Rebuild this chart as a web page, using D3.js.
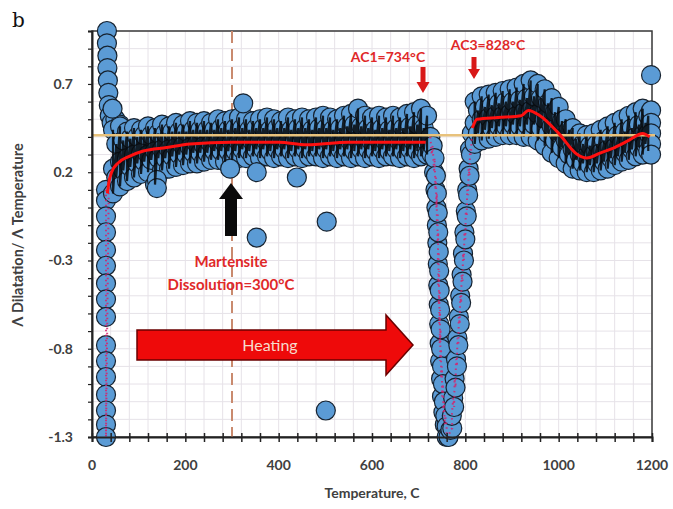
<!DOCTYPE html>
<html><head><meta charset="utf-8">
<script src="https://cdn.jsdelivr.net/npm/d3@7"></script>
<style>html,body{margin:0;padding:0;background:#fff;}svg{display:block;}</style>
</head><body>
<svg id="c" width="673" height="509"></svg>
<script>
// ---- data ----
const xTicks = [0, 200, 400, 600, 800, 1000, 1200];
const yTicks = [-1.3, -0.8, -0.3, 0.2, 0.7];

// initial column near room temperature
const colT = [32,32,33,33,34,35,36,38,42,50,60,44, 30,30,30,30,30,30,30,30,30,30,30,30,30,30,30,30];
const colV = [1.0,0.93,0.86,0.79,0.72,0.65,0.58,0.52,0.48,0.5,0.47,0.56, 0.1,0.04,-0.05,-0.14,-0.24,-0.33,-0.43,-0.52,-0.62,-0.78,-0.87,-0.96,-1.06,-1.15,-1.23,-1.3];

// main band before transformation (two interleaved temperature sets)
const bandT  = [45,60,75,90,105,120,135,150,165,180,195,210,225,240,255,270,285,300,315,330,345,360,375,390,405,420,435,450,465,480,495,510,525,540,555,570,585,600,615,630,645,660,675,690,705,718];
const bandHi = [0.44,0.46,0.43,0.45,0.44,0.46,0.45,0.47,0.46,0.48,0.47,0.49,0.48,0.49,0.48,0.50,0.49,0.50,0.51,0.50,0.49,0.50,0.51,0.50,0.49,0.51,0.50,0.51,0.50,0.51,0.52,0.51,0.50,0.52,0.53,0.56,0.52,0.51,0.52,0.51,0.52,0.51,0.53,0.54,0.56,0.52];
const bandMid= [0.22,0.26,0.28,0.30,0.31,0.30,0.32,0.33,0.33,0.34,0.35,0.34,0.36,0.35,0.36,0.37,0.36,0.37,0.37,0.38,0.37,0.38,0.37,0.38,0.38,0.37,0.38,0.38,0.37,0.38,0.38,0.37,0.38,0.38,0.37,0.38,0.38,0.37,0.38,0.37,0.38,0.37,0.38,0.37,0.38,0.37];
const bandLo = [0.08,0.12,0.15,0.17,0.19,0.20,0.13,0.21,0.22,0.23,0.24,0.25,0.25,0.26,0.27,0.27,0.26,0.27,0.28,0.28,0.29,0.28,0.29,0.28,0.29,0.28,0.29,0.28,0.29,0.29,0.28,0.29,0.28,0.29,0.28,0.29,0.28,0.29,0.28,0.29,0.29,0.28,0.29,0.28,0.29,0.30];
const bandT2 = [52,67,82,97,112,127,142,157,172,187,202,217,232,247,262,277,292,307,322,337,352,367,382,397,412,427,442,457,472,487,502,517,532,547,562,577,592,607,622,637,652,667,682,697,711];
const bandQ1 = [0.36,0.38,0.39,0.40,0.41,0.41,0.42,0.42,0.43,0.43,0.43,0.44,0.44,0.44,0.44,0.45,0.44,0.45,0.45,0.44,0.45,0.45,0.44,0.45,0.45,0.44,0.45,0.45,0.44,0.45,0.45,0.44,0.45,0.46,0.47,0.46,0.45,0.44,0.45,0.44,0.45,0.45,0.46,0.47,0.45];
const bandQ3 = [0.17,0.21,0.23,0.25,0.26,0.27,0.28,0.28,0.29,0.30,0.30,0.31,0.31,0.31,0.32,0.32,0.32,0.32,0.33,0.32,0.33,0.33,0.32,0.33,0.33,0.32,0.33,0.33,0.32,0.33,0.33,0.32,0.33,0.33,0.32,0.33,0.33,0.32,0.33,0.32,0.33,0.32,0.33,0.32,0.33];

// transformation dip
const dipT = [725,728,730,733,734,736,737,738,739,739,741,740,742,741,743,742,744,743,745,744,746,745,747,746,748,748,750,750,752,753,754,756,757,760,760,764,768,772,771,774,776,777,779,780,782,783,785,786,788,789,791,792,794,795,797,798,800,801,803,804,806,807,809,810,812,814];
const dipV = [0.40,0.30,0.35,0.20,0.28,0.10,0.18,0.00,0.08,-0.10,-0.03,-0.20,-0.14,-0.32,-0.25,-0.44,-0.36,-0.55,-0.47,-0.66,-0.58,-0.77,-0.69,-0.87,-0.80,-0.97,-0.90,-1.07,-1.00,-1.16,-1.10,-1.23,-1.18,-1.24,-1.30,-1.30,-1.26,-1.25,-1.18,-1.08,-1.13,-0.97,-1.02,-0.86,-0.90,-0.74,-0.78,-0.62,-0.66,-0.50,-0.54,-0.38,-0.42,-0.26,-0.30,-0.14,-0.18,-0.02,-0.05,0.10,0.07,0.22,0.18,0.33,0.30,0.42];

// austenite region
const postT  = [820,835,850,865,880,895,910,925,940,955,970,985,1000,1015,1030,1045,1060,1075,1090,1105,1120,1135,1150,1165,1180,1192];
const postHi = [0.60,0.63,0.64,0.65,0.66,0.67,0.68,0.70,0.72,0.70,0.67,0.62,0.57,0.50,0.45,0.42,0.41,0.42,0.44,0.46,0.48,0.50,0.52,0.54,0.56,0.52];
const postMid= [0.48,0.50,0.51,0.52,0.52,0.53,0.52,0.54,0.55,0.53,0.50,0.46,0.42,0.38,0.33,0.30,0.29,0.30,0.31,0.33,0.34,0.36,0.38,0.40,0.41,0.42];
const postLo = [0.36,0.38,0.39,0.40,0.41,0.41,0.41,0.40,0.40,0.38,0.35,0.31,0.28,0.25,0.22,0.21,0.20,0.20,0.21,0.22,0.24,0.26,0.27,0.29,0.30,0.32];
const postT2 = [827,842,857,872,887,902,917,932,947,962,977,992,1007,1022,1037,1052,1067,1082,1097,1112,1127,1142,1157,1172,1186];
const postQ1 = [0.55,0.57,0.58,0.59,0.60,0.60,0.61,0.62,0.63,0.62,0.59,0.54,0.49,0.44,0.39,0.36,0.35,0.36,0.38,0.40,0.41,0.43,0.45,0.47,0.48];
const postQ3 = [0.42,0.44,0.45,0.46,0.46,0.47,0.46,0.47,0.47,0.45,0.42,0.38,0.34,0.30,0.27,0.25,0.24,0.25,0.26,0.28,0.29,0.31,0.33,0.34,0.36];

const endT = [1198,1198,1198,1198,1198,1198];
const endV = [0.55,0.48,0.42,0.36,0.30,0.75];

// scattered outliers
const outT = [139,139,296,353,439,353,503,501,324];
const outV = [0.157,0.11,0.22,0.20,0.17,-0.17,-0.08,-1.15,0.59];

// moving average (solid red)
const avgT = [33,36,42,55,80,110,160,210,300,400,460,550,650,715,null,815,825,870,920,935,960,1000,1040,1060,1090,1120,1150,1180,1195];
const avgV = [0.08,0.14,0.20,0.25,0.29,0.32,0.34,0.36,0.37,0.37,0.355,0.37,0.37,0.37,null,0.45,0.50,0.51,0.52,0.55,0.52,0.42,0.30,0.28,0.31,0.34,0.38,0.42,0.40];

const refLevel = 0.41;     // horizontal reference line
const martT = 300;         // martensite dissolution

// ---- build series in order ----
function seg(tA, rowsA, tB, rowsB){
  const out = [];
  tA.forEach((t,i)=>rowsA.forEach(r=>out.push([t,r[i]])));
  tB.forEach((t,i)=>rowsB.forEach(r=>out.push([t,r[i]])));
  return out.sort((a,b)=>a[0]-b[0]);
}
const colPts = colT.map((t,i)=>[t,colV[i]]);
const bandPts = seg(bandT,[bandHi,bandMid,bandLo],bandT2,[bandQ1,bandQ3]);
const dipPts = dipT.map((t,i)=>[t,dipV[i]]);
const postPts = seg(postT,[postHi,postMid,postLo],postT2,[postQ1,postQ3]);
const endPts = endT.map((t,i)=>[t,endV[i]]);
const pts = colPts.concat(bandPts, dipPts, postPts, endPts);
const outs = outT.map((t,i)=>[t,outV[i]]);

// ---- chart ----
const svg = d3.select("#c");
const L=92,R=652,T=31,B=437;
const x = d3.scaleLinear().domain([0,1200]).range([L,R]);
const y = d3.scaleLinear().domain([-1.3,1.0]).range([B,T]);

// grid
const gx = d3.range(0,1201,40), gy = d3.range(-13,11,1).map(v=>v/10);
svg.append("g").selectAll("line").data(gx).join("line")
  .attr("x1",d=>x(d)).attr("x2",d=>x(d)).attr("y1",T).attr("y2",B)
  .attr("stroke","#e6e2e8").attr("stroke-width",1);
svg.append("g").selectAll("line").data(gy).join("line")
  .attr("x1",L).attr("x2",R).attr("y1",d=>y(d)).attr("y2",d=>y(d))
  .attr("stroke","#e6e2e8").attr("stroke-width",1);

// plot border
svg.append("rect").attr("x",L).attr("y",T).attr("width",R-L).attr("height",B-T)
  .attr("fill","none").attr("stroke","#3a3a3a").attr("stroke-width",1.5);

// dashed martensite line
svg.append("line").attr("x1",x(martT)).attr("x2",x(martT)).attr("y1",T).attr("y2",B)
  .attr("stroke","#c98a6e").attr("stroke-width",2).attr("stroke-dasharray","12,6");

// points
const allPts = pts.concat(outs);
svg.append("g").selectAll("circle").data(allPts).join("circle")
  .attr("cx",d=>x(d[0])).attr("cy",d=>y(d[1])).attr("r",9.5)
  .attr("fill","#5b9bd5").attr("stroke","#16222f").attr("stroke-width",1.2);

const line = d3.line().x(d=>x(d[0])).y(d=>y(d[1]));
// dark core where measurements overlap densely
[bandPts, postPts].forEach(p=>{
  svg.append("path").attr("d",line(p)).attr("fill","none")
    .attr("stroke","#070a0e").attr("stroke-width",2.2).attr("opacity",0.88);
});
// series dotted line (visible where points spread vertically)
[colPts.slice(12).concat([[36,0.14]]), dipPts].forEach(p=>{
  svg.append("path").attr("d",line(p)).attr("fill","none")
    .attr("stroke","#d8206a").attr("stroke-width",2).attr("stroke-dasharray","1.5,3.5").attr("opacity",0.85);
});

// reference horizontal line
svg.append("line").attr("x1",L).attr("x2",R+3).attr("y1",y(refLevel)).attr("y2",y(refLevel))
  .attr("stroke","#e8c27c").attr("stroke-width",2.5);

// moving average
const avg = avgT.map((t,i)=>[t,avgV[i]]);
svg.append("path").attr("d",d3.line().defined(d=>d[0]!==null).x(d=>x(d[0])).y(d=>y(d[1])).curve(d3.curveMonotoneX)(avg))
  .attr("fill","none").attr("stroke","#ff1010").attr("stroke-width",3);

// axes
const xAxis = d3.axisBottom(x).tickValues(gx).tickSize(5).tickFormat("");
const gxa = svg.append("g").attr("transform",`translate(0,${B})`).call(xAxis);
gxa.select(".domain").attr("stroke","#222").attr("stroke-width",2);
gxa.selectAll(".tick line").attr("stroke","#222").attr("stroke-width",1.5).attr("y1",-4);
const yAxis = d3.axisLeft(y).tickValues(gy).tickSize(4).tickFormat("");
const gya = svg.append("g").attr("transform",`translate(${L},0)`).call(yAxis);
gya.select(".domain").attr("stroke","#222").attr("stroke-width",2);
gya.selectAll(".tick line").attr("stroke","#222").attr("stroke-width",1.2);

const font = "Lato, 'Open Sans', sans-serif";
svg.append("g").selectAll("text").data(xTicks).join("text")
  .attr("x",d=>x(d)).attr("y",B+33).attr("text-anchor","middle")
  .attr("font-family",font).attr("font-weight","bold").attr("font-size",14).attr("fill","#404040")
  .text(d=>d);
svg.append("g").selectAll("text").data(yTicks).join("text")
  .attr("x",L-19).attr("y",d=>y(d)+5).attr("text-anchor","end")
  .attr("font-family",font).attr("font-weight","bold").attr("font-size",14).attr("fill","#404040")
  .text(d=>d);

svg.append("text").attr("x",372).attr("y",498).attr("text-anchor","middle")
  .attr("font-family",font).attr("font-weight","bold").attr("font-size",14).attr("fill","#404040")
  .text("Temperature, C");
svg.append("text").attr("transform","translate(23,235) rotate(-90)").attr("text-anchor","middle")
  .attr("font-family",font).attr("font-weight","bold").attr("font-size",14.5).attr("fill","#404040")
  .text("Λ Dilatation/ Λ Temperature");

svg.append("text").attr("x",12).attr("y",27).attr("font-family","'DejaVu Serif','Liberation Serif',serif")
  .attr("font-size",20).attr("fill","#111").text("b");

// annotations
const red = "#e02828";
svg.append("text").attr("x",388).attr("y",62).attr("text-anchor","middle")
  .attr("font-family",font).attr("font-size",14).attr("font-weight","bold").attr("fill",red).text("AC1=734°C");
svg.append("text").attr("x",488).attr("y",50).attr("text-anchor","middle")
  .attr("font-family",font).attr("font-size",14).attr("font-weight","bold").attr("fill",red).text("AC3=828°C");

function downArrow(cx, y0, y1, shaftW, headW, headH, fill){
  const p = `M${cx-shaftW/2},${y0} L${cx+shaftW/2},${y0} L${cx+shaftW/2},${y1-headH} L${cx+headW/2},${y1-headH} L${cx},${y1} L${cx-headW/2},${y1-headH} L${cx-shaftW/2},${y1-headH} Z`;
  svg.append("path").attr("d",p).attr("fill",fill);
}
downArrow(423,67,93,5,13,11,"#d81818");
downArrow(474,57,79,5,12,10,"#d81818");

// black up arrow
(function(){
  const cx=x(martT)-1, tip=183, base=236, sw=12, hw=24, hh=16;
  const p = `M${cx},${tip} L${cx+hw/2},${tip+hh} L${cx+sw/2},${tip+hh} L${cx+sw/2},${base} L${cx-sw/2},${base} L${cx-sw/2},${tip+hh} L${cx-hw/2},${tip+hh} Z`;
  svg.append("path").attr("d",p).attr("fill","#0a0a0a");
})();

svg.append("text").attr("x",231).attr("y",267).attr("text-anchor","middle")
  .attr("font-family",font).attr("font-size",15).attr("font-weight","bold").attr("fill",red).text("Martensite");
svg.append("text").attr("x",231).attr("y",290).attr("text-anchor","middle")
  .attr("font-family",font).attr("font-size",15).attr("font-weight","bold").attr("fill",red).text("Dissolution=300°C");

// heating arrow
(function(){
  const x0=137, x1=386, tip=413, yc=345, sh=15, hh=30;
  const p = `M${x0},${yc-sh} L${x1},${yc-sh} L${x1},${yc-hh} L${tip},${yc} L${x1},${yc+hh} L${x1},${yc+sh} L${x0},${yc+sh} Z`;
  svg.append("path").attr("d",p).attr("fill","#ee0a0a").attr("stroke","#6a0000").attr("stroke-width",1.5);
  svg.append("text").attr("x",270).attr("y",351).attr("text-anchor","middle")
    .attr("font-family",font).attr("font-size",16).attr("fill","#f6dccd").text("Heating");
})();
</script>
</body></html>
